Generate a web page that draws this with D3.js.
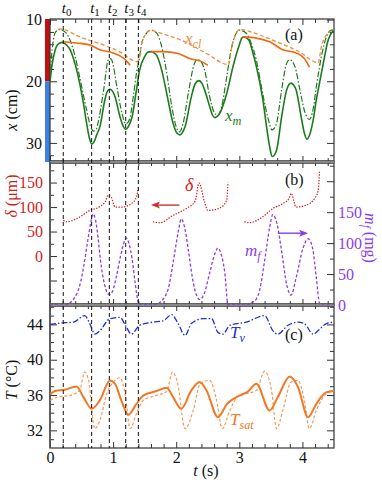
<!DOCTYPE html>
<html><head><meta charset="utf-8">
<script src="https://cdnjs.cloudflare.com/ajax/libs/d3/7.8.5/d3.min.js"></script>
<style>body{margin:0;background:#fff}svg{display:block}svg text{font-family:"Liberation Serif","Times New Roman",serif !important}</style>
</head><body><svg id="c" width="382" height="480" font-family="Liberation Serif, serif"></svg>
<script>
// ---------- data ----------
const markerTimes = [0.21, 0.66, 0.94, 1.20, 1.40];
const markerLabels = ["0", "1", "2", "3", "4"];
const tTicksMajor = [0, 1, 2, 3, 4];
const xTickMajor = [10, 20, 30];
const deltaTickLabels = [0, 50, 100, 150];
const mfTickLabels = [0, 50, 100, 150];
const TTickLabels = [32, 36, 40, 44];

// panel (a): x (cm)
const xmSolid = [[0,20.1],[0.03,17.5],[0.08,15.0],[0.14,13.9],[0.2,13.7],[0.26,14.1],[0.32,14.9],[0.4,17.3],[0.47,20.3],[0.53,23.6],[0.58,26.8],[0.62,29.0],[0.66,30.2],[0.7,29.8],[0.74,28.7],[0.79,27.4],[0.87,23.0],[0.91,21.6],[0.95,21.3],[0.99,21.6],[1.03,22.5],[1.11,25.8],[1.16,27.3],[1.2,27.8],[1.25,27.2],[1.3,25.8],[1.37,21.4],[1.42,18.2],[1.5,16.0],[1.55,15.3],[1.6,15.2],[1.65,15.4],[1.69,15.8],[1.77,18.2],[1.85,22.0],[1.95,26.8],[2.01,28.4],[2.06,28.7],[2.1,28.3],[2.14,27.4],[2.24,22.5],[2.3,20.4],[2.36,19.9],[2.41,20.4],[2.45,21.4],[2.53,24.1],[2.57,25.4],[2.61,25.9],[2.65,25.7],[2.69,25.2],[2.8,22.0],[2.9,17.6],[2.99,14.4],[3.04,13.0],[3.07,12.8],[3.12,13.0],[3.16,13.5],[3.21,15.2],[3.27,17.6],[3.37,22.8],[3.44,28.0],[3.48,30.6],[3.52,32.2],[3.56,31.9],[3.59,31.2],[3.67,25.8],[3.75,21.4],[3.79,20.5],[3.82,20.3],[3.86,20.6],[3.9,21.4],[3.98,25.8],[4.03,28.4],[4.07,29.4],[4.11,28.8],[4.17,26.3],[4.22,23.0],[4.27,20.3],[4.34,16.6],[4.4,13.6],[4.45,12.3],[4.5,11.8]];
const xmModel = [[0,20.1],[0.02,16.5],[0.05,13.5],[0.09,12.0],[0.16,11.6],[0.21,11.8],[0.26,12.2],[0.37,14.9],[0.47,19.3],[0.58,24.7],[0.64,27.2],[0.69,28.1],[0.73,27.8],[0.76,26.8],[0.85,21.4],[0.92,16.6],[0.95,16.3],[0.98,16.6],[1.06,20.9],[1.14,25.2],[1.2,26.9],[1.24,26.6],[1.27,25.8],[1.32,22.5],[1.37,18.7],[1.42,16.0],[1.45,14.0],[1.53,12.2],[1.6,11.7],[1.69,12.2],[1.77,14.4],[1.85,18.7],[1.93,24.1],[2.0,27.4],[2.05,28.2],[2.11,26.8],[2.19,22.0],[2.29,17.1],[2.33,16.5],[2.37,16.6],[2.45,18.2],[2.53,22.5],[2.61,25.2],[2.66,25.5],[2.72,24.1],[2.8,19.3],[2.87,14.9],[2.95,12.2],[3.0,11.7],[3.11,12.2],[3.19,13.9],[3.27,16.6],[3.35,20.9],[3.45,25.8],[3.52,27.9],[3.59,26.8],[3.67,21.4],[3.75,17.1],[3.8,16.5],[3.88,17.6],[3.96,21.4],[4.03,24.7],[4.11,26.2],[4.17,24.5],[4.22,20.9],[4.3,16.0],[4.38,12.8],[4.46,11.7],[4.5,11.7]];
const xclModel = [[0.13,11.6],[0.16,11.5],[0.47,12.8],[0.79,13.9],[1.1,15.2],[1.38,16.8],[1.42,16.0],[1.45,14.0],[1.53,12.2],[1.6,11.7],[1.63,11.8],[2.16,13.7],[2.48,15.5],[2.83,17.3],[2.87,14.9],[2.95,12.2],[3.0,11.6],[3.27,12.3],[3.59,13.6],[3.95,15.2],[4.25,17.0],[4.3,14.4],[4.38,12.5],[4.46,11.8]];
const xclSolid1 = [[0.2,13.6],[0.42,13.8],[0.63,14.1],[0.79,14.9],[1.0,15.4],[1.17,16.3],[1.27,17.4]];
const xclSolid2 = [[1.6,15.2],[1.79,15.2],[2.03,15.5],[2.21,16.3],[2.42,16.9],[2.5,17.4]];
const xclSolid3 = [[3.05,12.8],[3.27,13.0],[3.48,13.6],[3.69,14.9],[3.9,15.4],[4.03,16.3],[4.11,17.7]];

// panel (b): delta (um), m_f (mg)
const delta1 = [[0.21,73],[0.26,70],[0.42,76],[0.63,93],[0.79,101],[0.88,112],[0.92,124],[0.97,120],[1.03,100],[1.14,100],[1.29,107],[1.37,121],[1.4,141]];
const delta2 = [[1.63,70],[1.74,68],[1.95,83],[2.16,97],[2.3,112],[2.36,149],[2.45,110],[2.5,93],[2.69,98],[2.8,114],[2.82,150]];
const delta3 = [[3.08,70],[3.16,68],[3.37,80],[3.53,97],[3.69,107],[3.79,118],[3.82,128],[3.9,100],[4.06,104],[4.19,117],[4.25,134],[4.27,172]];
const mf = [[0,0],[0.24,0],[0.3,2],[0.36,8],[0.42,17],[0.48,35],[0.53,60],[0.6,105],[0.65,135],[0.68,147],[0.72,138],[0.76,110],[0.8,72],[0.86,35],[0.92,18],[0.95,17],[0.99,22],[1.05,45],[1.12,80],[1.18,103],[1.21,108],[1.25,100],[1.3,75],[1.35,35],[1.39,8],[1.42,0],[1.68,0],[1.74,4],[1.87,25],[1.95,68],[2.03,117],[2.08,139],[2.14,122],[2.19,90],[2.27,36],[2.33,14],[2.37,9],[2.45,20],[2.53,52],[2.61,82],[2.66,92],[2.72,79],[2.77,52],[2.82,1],[3.11,0],[3.2,4],[3.27,10],[3.32,23],[3.4,71],[3.48,125],[3.53,146],[3.6,130],[3.67,87],[3.75,33],[3.82,16],[3.9,44],[4.01,92],[4.09,107],[4.16,92],[4.22,44],[4.27,3],[4.3,0],[4.5,0]];

// panel (c): T (degC)
const Tv = [[0,44.0],[0.16,44.15],[0.37,44.26],[0.55,45.0],[0.63,44.1],[0.71,42.9],[0.79,43.3],[0.95,44.65],[1.11,44.8],[1.21,43.7],[1.29,42.9],[1.42,43.9],[1.63,44.26],[1.79,44.4],[1.93,45.1],[2.03,44.1],[2.14,42.75],[2.24,44.1],[2.43,44.65],[2.56,44.65],[2.66,43.1],[2.74,42.9],[2.85,43.9],[3.11,44.26],[3.4,45.0],[3.53,43.3],[3.61,42.9],[3.77,43.9],[3.93,44.26],[4.03,44.1],[4.17,42.9],[4.25,43.3],[4.38,44.1],[4.5,44.26]];
const Tsat = [[0,36.07],[0.08,36.45],[0.24,36.6],[0.42,36.98],[0.53,35.77],[0.66,34.45],[0.79,35.4],[0.95,37.66],[1.03,37.28],[1.13,35.4],[1.24,33.77],[1.37,35.0],[1.48,35.96],[1.69,36.45],[1.85,36.83],[1.95,35.77],[2.08,34.45],[2.24,36.52],[2.37,37.47],[2.48,36.52],[2.66,33.5],[2.8,34.94],[3.01,35.96],[3.13,36.36],[3.27,37.28],[3.48,34.26],[3.61,35.77],[3.8,38.1],[3.93,36.9],[4.09,33.5],[4.22,35.0],[4.38,36.33],[4.5,36.45]];
const TsatModel = [[0,35.4],[0.13,35.77],[0.32,35.96],[0.47,36.52],[0.55,38.6],[0.61,37.66],[0.71,32.19],[0.79,33.13],[0.9,36.15],[1.03,37.66],[1.11,37.96],[1.19,36.15],[1.27,32.19],[1.37,33.89],[1.48,35.4],[1.69,35.96],[1.85,36.4],[1.94,38.6],[2.02,37.43],[2.14,32.19],[2.27,34.26],[2.38,37.28],[2.53,37.66],[2.64,35.4],[2.73,32.19],[2.85,34.26],[2.98,35.85],[3.11,36.15],[3.27,36.52],[3.4,38.7],[3.51,36.52],[3.59,32.19],[3.69,34.26],[3.82,37.47],[3.93,37.66],[4.03,35.4],[4.11,32.19],[4.22,34.26],[4.38,36.15],[4.5,36.45]];

// ---------- layout ----------
const FONT = "Liberation Serif, Times New Roman, serif";
const svg = d3.select("#c");
const L = 50, R = 334;
const PA = [19, 162], PB = [162, 305], PC = [305, 448];
const x = d3.scaleLinear().domain([0, 4.5]).range([L, R]);
const ya = d3.scaleLinear().domain([9.9, 33.1]).range([PA[0], PA[1]]);
const yd = d3.scaleLinear().domain([-100, 192]).range([PB[1], PB[0]]);
const ym = d3.scaleLinear().domain([0, 231]).range([PB[1], PB[0]]);
const yT = d3.scaleLinear().domain([30, 46.2]).range([PC[1], PC[0]]);

const C = {green:"#1e7a1e", orange:"#f06a12", orangeL:"#f5883c", red:"#d61c1c", redT:"#cc1f1f", purple:"#8a3ee6", blue:"#1c2fd8", tsat:"#f07826", tsatL:"#f79a58"};

const defs = svg.append("defs");
[["ca",PA],["cb",PB],["cc",PC]].forEach(([id,p])=>{
  defs.append("clipPath").attr("id",id).append("rect").attr("x",L).attr("y",p[0]).attr("width",R-L).attr("height",p[1]-p[0]);
});

// side bar in panel (a)
svg.append("rect").attr("x",45).attr("y",PA[0]).attr("width",5).attr("height",ya(20)-PA[0]).attr("fill","#c30f0f");
svg.append("rect").attr("x",45).attr("y",ya(20)).attr("width",5).attr("height",PA[1]-ya(20)).attr("fill","#3d80e8");

function styleAxis(g, color, fs){
  g.attr("font-family", FONT);
  g.select(".domain").remove();
  g.selectAll("line").attr("stroke","#333").attr("stroke-width",1);
  g.selectAll("text").attr("fill",color||"#111").attr("font-size",fs||16).attr("font-family",FONT);
}
function addAxis(axisFn, scale, pos, values, size, labels, fmt, color, pad){
  const a = axisFn(scale).tickValues(values).tickSize(size).tickPadding(pad||6);
  if(!labels) a.tickFormat(""); else a.tickFormat(fmt||d3.format("d"));
  const g = svg.append("g");
  if(axisFn===d3.axisLeft||axisFn===d3.axisRight) g.attr("transform",`translate(${pos},0)`);
  else g.attr("transform",`translate(0,${pos})`);
  g.call(a); styleAxis(g,color); return g;
}
const tMinor = d3.range(0, 4.51, 0.2).filter(v=>Math.abs(v-Math.round(v))>1e-6);
[[PA[0],d3.axisTop],[PA[1],d3.axisBottom],[PB[0],d3.axisTop],[PB[1],d3.axisBottom],[PC[0],d3.axisTop]].forEach(([p,fn])=>{
  addAxis(fn, x, p, tMinor, -4, false); addAxis(fn, x, p, tTicksMajor, -6, false);
});
addAxis(d3.axisBottom, x, PC[1], tMinor, -4, false);
addAxis(d3.axisBottom, x, PC[1], tTicksMajor, -6, true, d3.format("d"), "#111", 4);

// panel a y ticks
const aMinor = d3.range(12, 33.1, 2).filter(v=>v%10!==0);
addAxis(d3.axisLeft, ya, L, aMinor, -4, false); addAxis(d3.axisLeft, ya, L, xTickMajor, -7, true, d3.format("d"), "#111", 8);
addAxis(d3.axisRight, ya, R, aMinor, -4, false); addAxis(d3.axisRight, ya, R, xTickMajor, -7, false);
// panel b
const dMinor = d3.range(-75, 190, 25).filter(v=>v%50!==0);
const dMajor = d3.range(-50, 190, 50);
addAxis(d3.axisLeft, yd, L, dMinor, -4, false); addAxis(d3.axisLeft, yd, L, dMajor, -7, false);
addAxis(d3.axisLeft, yd, L, deltaTickLabels, 0, true, d3.format("d"), C.redT, 7);
const mMinor = d3.range(25, 231, 50);
const mMajor = d3.range(50, 231, 50);
addAxis(d3.axisRight, ym, R, mMinor, -4, false); addAxis(d3.axisRight, ym, R, mMajor, -7, false);
addAxis(d3.axisRight, ym, R, mfTickLabels, 0, true, d3.format("d"), C.purple, 4);
// panel c
const TMinor = d3.range(31, 46.1, 1).filter(v=>v%4!==0);
const TMajor = d3.range(32, 46.1, 4);
addAxis(d3.axisLeft, yT, L, TMinor, -4, false); addAxis(d3.axisLeft, yT, L, TTickLabels, -7, true, d3.format("d"), "#111", 7);
addAxis(d3.axisRight, yT, R, TMinor, -4, false); addAxis(d3.axisRight, yT, R, TMajor, -7, false);

// frames
[PA,PB,PC].forEach(p=>{
  svg.append("rect").attr("x",L).attr("y",p[0]).attr("width",R-L).attr("height",p[1]-p[0]).attr("fill","none").attr("stroke","#333").attr("stroke-width",1.2);
});
[PB[0],PC[0]].forEach(yy=>{
  svg.append("rect").attr("x",L).attr("y",yy-1.3).attr("width",R-L).attr("height",2.6).attr("fill","#9a9a9a");
  svg.append("line").attr("x1",L).attr("x2",R).attr("y1",yy-1.3).attr("y2",yy-1.3).attr("stroke","#333").attr("stroke-width",0.9);
  svg.append("line").attr("x1",L).attr("x2",R).attr("y1",yy+1.3).attr("y2",yy+1.3).attr("stroke","#333").attr("stroke-width",0.9);
});
svg.append("line").attr("x1",L).attr("x2",L).attr("y1",PB[0]).attr("y2",PC[1]).attr("stroke","#555").attr("stroke-width",1.6);

// curves
function draw(data, ys, clip, color, width, dash){
  svg.append("path").datum(data).attr("clip-path",`url(#${clip})`)
    .attr("d", d3.line().x(d=>x(d[0])).y(d=>ys(d[1])).curve(d3.curveMonotoneX))
    .attr("fill","none").attr("stroke",color).attr("stroke-width",width)
    .attr("stroke-dasharray",dash||null).attr("stroke-linejoin","round");
}
draw(xmModel, ya, "ca", C.green, 1.2, "6,2,1.5,2");
draw(xmSolid, ya, "ca", C.green, 1.6);
draw(xclModel, ya, "ca", C.orangeL, 1.3, "4,2.5");
[xclSolid1,xclSolid2,xclSolid3].forEach(s=>draw(s, ya, "ca", C.orange, 1.6));

[delta1,delta2,delta3].forEach(s=>draw(s, yd, "cb", C.red, 1.2, "1.4,1.4"));
draw(mf, ym, "cb", C.purple, 1.3, "3,2");

draw(Tv, yT, "cc", C.blue, 1.3, "6,2,1.5,2");
draw(TsatModel, yT, "cc", C.tsatL, 1.2, "3,2");
draw(Tsat, yT, "cc", C.tsat, 2.0);

// marker lines
markerTimes.forEach((t,i)=>{
  svg.append("line").attr("x1",x(t)).attr("x2",x(t)).attr("y1",PA[0]).attr("y2",PC[1])
    .attr("stroke","#111").attr("stroke-width",1).attr("stroke-dasharray","4,3");
  const tx = svg.append("text").attr("x",x(t)-1.5).attr("y",13).attr("font-size",15).attr("fill","#111").attr("font-family",FONT);
  tx.append("tspan").attr("font-style","italic").text("t");
  tx.append("tspan").attr("font-size",11).attr("dy",2.5).text(markerLabels[i]);
});

// arrows
function arrow(t1, t2, v, ys, color){
  const x1=x(t1), x2=x(t2), yy=ys(v), dir=Math.sign(x2-x1);
  svg.append("line").attr("x1",x1).attr("x2",x2-dir*7).attr("y1",yy).attr("y2",yy).attr("stroke",color).attr("stroke-width",1.4);
  svg.append("path").attr("d",`M${x2},${yy}L${x2-dir*9},${yy-3.5}L${x2-dir*7},${yy}L${x2-dir*9},${yy+3.5}Z`).attr("fill",color);
}
arrow(2.05, 1.6, 104, yd, "#cc3030");
arrow(3.61, 4.09, 116, ym, C.purple);

// labels
function lbl(px, py, parts, color, fs, extra){
  const t = svg.append("text").attr("x",px).attr("y",py).attr("fill",color).attr("font-size",fs||16).attr("font-family",FONT);
  if(extra) extra(t);
  parts.forEach(p=>{
    const s = t.append("tspan").text(p.s);
    if(p.i) s.attr("font-style","italic");
    if(p.sub) s.attr("font-size",(fs||16)*0.72);
    if(p.dy) s.attr("dy",p.dy);
  });
  return t;
}
lbl(185, 44, [{s:"x",i:1},{s:"cl",i:1,sub:1,dy:4}], C.orangeL, 17);
lbl(225, 121, [{s:"x",i:1},{s:"m",i:1,sub:1,dy:4}], C.green, 17);
lbl(285, 40, [{s:"(a)"}], "#111", 16);
lbl(185, 191, [{s:"δ",i:1}], C.red, 18);
lbl(245, 256, [{s:"m",i:1},{s:"f",i:1,sub:1,dy:4}], C.purple, 17);
lbl(285, 185, [{s:"(b)"}], "#111", 16);
lbl(230, 338, [{s:"T",i:1},{s:"v",i:1,sub:1,dy:4}], C.blue, 17);
lbl(285, 340, [{s:"(c)"}], "#111", 16);
lbl(230, 425, [{s:"T",i:1},{s:"sat",i:1,sub:1,dy:4}], C.tsat, 17);

// axis titles
lbl(0, 0, [{s:"x",i:1},{s:" (cm)"}], "#111", 16, t=>t.attr("text-anchor","middle").attr("transform","translate(17,110) rotate(-90)"));
lbl(0, 0, [{s:"δ",i:1},{s:" (μm)"}], C.redT, 16, t=>t.attr("text-anchor","middle").attr("transform","translate(17,196) rotate(-90)"));
lbl(0, 0, [{s:"T",i:1},{s:" (°C)"}], "#111", 16, t=>t.attr("text-anchor","middle").attr("transform","translate(17,380) rotate(-90)"));
lbl(0, 0, [{s:"m",i:1},{s:"f",i:1,sub:1,dy:3},{s:" (mg)",dy:-3}], C.purple, 16, t=>t.attr("text-anchor","middle").attr("transform","translate(365,238) rotate(90)"));
lbl(206, 476, [{s:"t",i:1},{s:" (s)"}], "#111", 16, t=>t.attr("text-anchor","middle"));
</script></body></html>
